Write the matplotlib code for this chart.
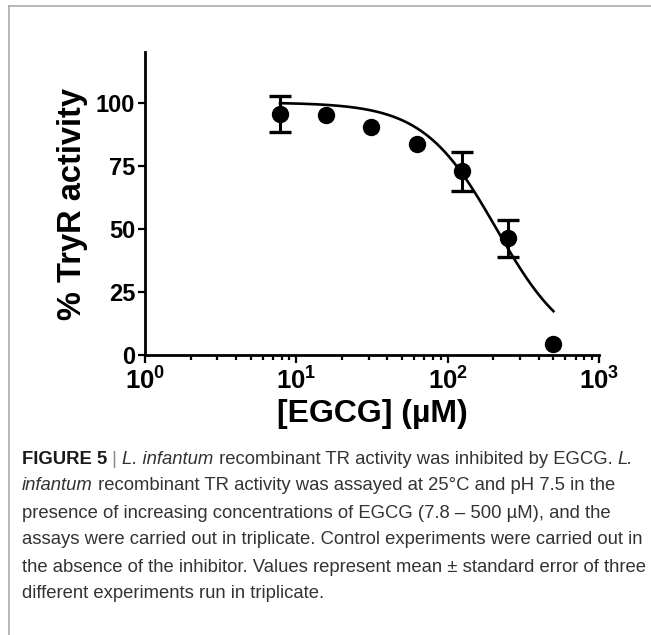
import numpy as np
import matplotlib
matplotlib.use("Agg")
import matplotlib.pyplot as plt
from matplotlib.lines import Line2D
from matplotlib.ticker import FixedLocator, FuncFormatter, LogLocator, NullFormatter
from matplotlib import font_manager

# ---------------- data ----------------
egcg_uM = [7.8, 15.6, 31.25, 62.5, 125, 250, 500]
activity_pct = [95.5, 95.2, 90.2, 83.4, 72.7, 46.2, 4.4]
sem_pct = [7.0, 0.0, 0.0, 0.0, 7.7, 7.3, 0.0]

# fitted dose-response parameters
fit_top = 100.0
fit_bottom = 0.0
fit_ic50 = 210.0
fit_hill = 1.8

yticks = [0, 25, 50, 75, 100]
xtick_exps = [0, 1, 2, 3]

xlabel = "[EGCG] (\u00b5M)"
ylabel = "% TryR activity"

caption_lines = [
    [("FIGURE 5", "bold"), (" | ", "bar"), ("L. infantum", "italic"),
     (" recombinant TR activity was inhibited by EGCG. ", "normal"), ("L.", "italic")],
    [("infantum", "italic"),
     (" recombinant TR activity was assayed at 25\u00b0C and pH 7.5 in the", "normal")],
    [("presence of increasing concentrations of EGCG (7.8 \u2013 500 \u00b5M), and the", "normal")],
    [("assays were carried out in triplicate. Control experiments were carried out in", "normal")],
    [("the absence of the inhibitor. Values represent mean \u00b1 standard error of three", "normal")],
    [("different experiments run in triplicate.", "normal")],
]

# ---------------- figure ----------------
W, H = 651, 635
DPI = 100
fig = plt.figure(figsize=(W / DPI, H / DPI), dpi=DPI)
plt.rcParams['font.family'] = ['Liberation Sans', 'DejaVu Sans']
plt.rcParams['mathtext.fontset'] = 'custom'
plt.rcParams['mathtext.rm'] = 'Liberation Sans:bold'
plt.rcParams['mathtext.bf'] = 'Liberation Sans:bold'
plt.rcParams['mathtext.it'] = 'Liberation Sans:bold'

# axes placement in pixels
ax_l, ax_r, ax_b, ax_t = 145, 599, 355, 52
ax = fig.add_axes([ax_l / W, 1 - ax_b / H, (ax_r - ax_l) / W, (ax_b - ax_t) / H])

ax.set_xscale('log')
ax.set_xlim(1, 1000)
ax.set_ylim(0, 120)

xs = np.logspace(np.log10(egcg_uM[0]), np.log10(egcg_uM[-1]), 300)
ys = fit_bottom + (fit_top - fit_bottom) / (1 + (xs / fit_ic50) ** fit_hill)
ax.plot(xs, ys, color='black', lw=1.9, zorder=2)

ax.plot(egcg_uM, activity_pct, 'o', color='black', ms=11.5, zorder=3, clip_on=False)
for x, y, e in zip(egcg_uM, activity_pct, sem_pct):
    if e > 0:
        ax.errorbar([x], [y], yerr=[e], fmt='none', ecolor='black', elinewidth=2.2,
                    capsize=8, capthick=2.4, zorder=3)

for s in ['top', 'right']:
    ax.spines[s].set_visible(False)
for s in ['left', 'bottom']:
    ax.spines[s].set_linewidth(2.0)

ax.set_yticks(yticks)
ax.set_yticklabels([str(v) for v in yticks])
ax.xaxis.set_major_locator(FixedLocator([10.0 ** e for e in xtick_exps]))
ax.xaxis.set_major_formatter(FuncFormatter(lambda v, p: r'$\mathbf{10^{%d}}$' % round(np.log10(v))))
ax.xaxis.set_minor_locator(LogLocator(base=10, subs=np.arange(2, 10), numticks=20))
ax.xaxis.set_minor_formatter(NullFormatter())

ax.tick_params(axis='y', which='major', length=5, width=1.6, direction='out',
               labelsize=17, pad=2)
ax.tick_params(axis='x', which='major', length=6, width=1.6, direction='out',
               labelsize=18.5, pad=3)
ax.tick_params(axis='x', which='minor', length=3.5, width=1.6, direction='out')
for lab in ax.get_yticklabels() + ax.get_xticklabels():
    lab.set_fontweight('bold')

ax.set_ylabel(ylabel, fontsize=23.5, fontweight='bold', labelpad=6)
ax.set_xlabel(xlabel, fontsize=23, fontweight='bold', labelpad=3)

# border lines of the figure panel
fig.add_artist(Line2D([9 / W, 1.0], [1 - 6 / H, 1 - 6 / H], transform=fig.transFigure,
                      color='#aaaaaa', lw=1.2))
fig.add_artist(Line2D([9 / W, 9 / W], [0.0, 1 - 6 / H], transform=fig.transFigure,
                      color='#aaaaaa', lw=1.2))

# ---------------- caption ----------------
names = {f.name for f in font_manager.fontManager.ttflist}
cap_font = 'Liberation Sans Narrow' if 'Liberation Sans Narrow' in names else 'Liberation Sans'
cap_color = '#333333'
renderer = fig.canvas.get_renderer()


def style_kw(kind, size):
    kw = dict(fontsize=size, color=cap_color, family=[cap_font, 'DejaVu Sans'])
    if kind == 'bold':
        kw.update(fontweight='bold', color='#1a1a1a')
    elif kind == 'italic':
        kw.update(style='italic')
    elif kind == 'bar':
        kw.update(color='#888888')
    return kw


def draw_line(runs, x0, yc, size, draw=True):
    x = x0
    for txt, kind in runs:
        t = fig.text(x / W, 1 - yc / H, txt, va='center', ha='left', **style_kw(kind, size))
        bb = t.get_window_extent(renderer)
        x += bb.width
        if not draw:
            t.remove()
    return x - x0


# fit font size so that the first line spans the measured width
target_w = 635 - 22
w10 = draw_line(caption_lines[0], 22, 460, 10, draw=False)
cap_size = 10 * target_w / w10

line_y = [459, 486, 513, 540, 567, 594]
for runs, yc in zip(caption_lines, line_y):
    draw_line(runs, 22, yc, cap_size)

fig.savefig('out.png', dpi=DPI)
